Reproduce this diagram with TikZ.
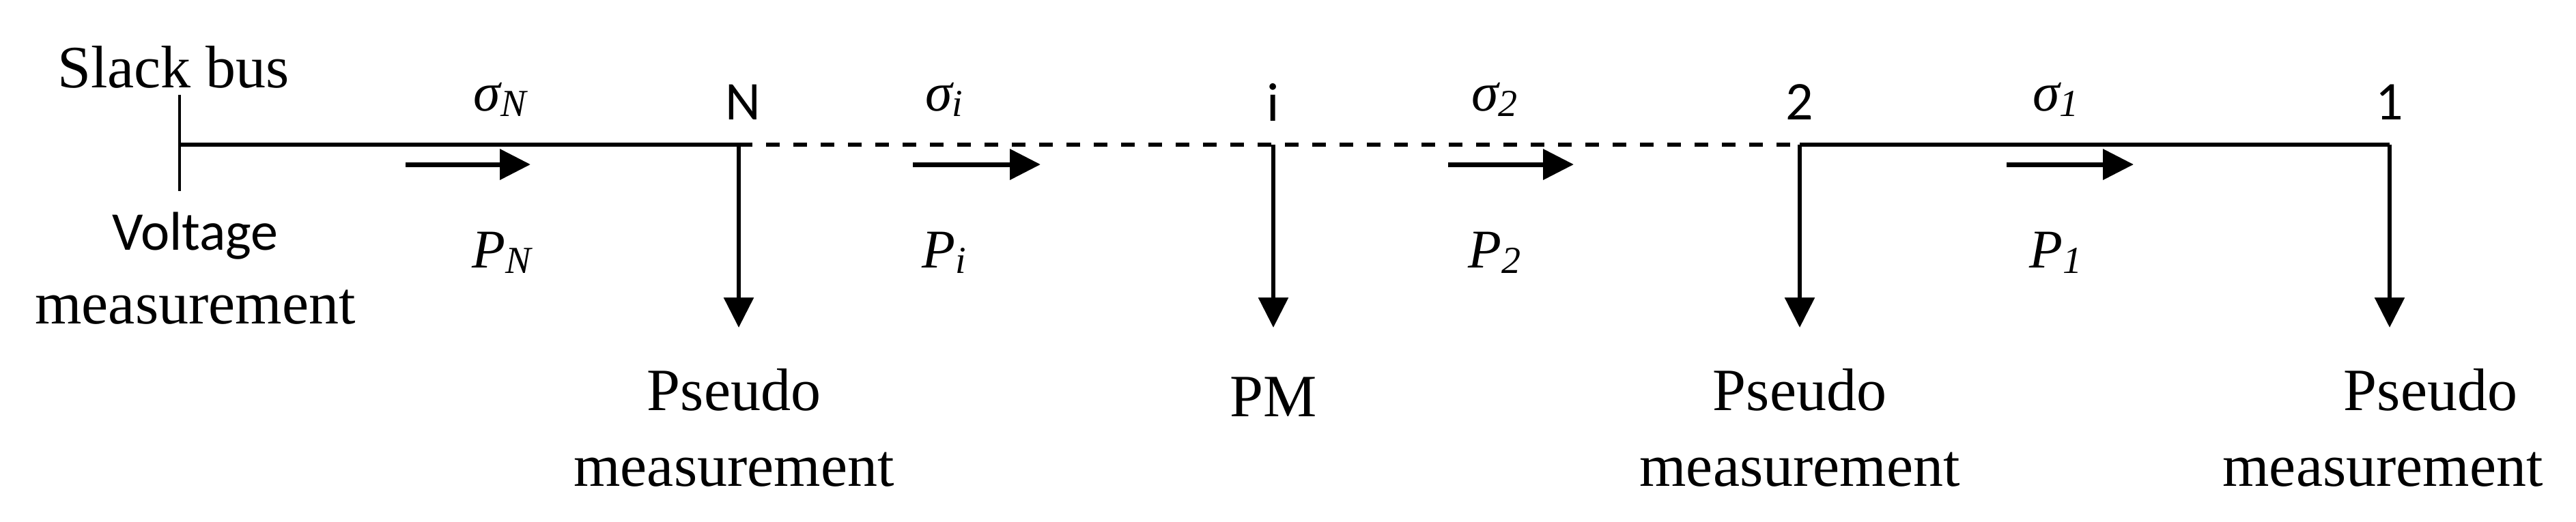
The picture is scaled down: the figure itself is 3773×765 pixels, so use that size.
\documentclass[tikz,border=0pt]{standalone}
\usepackage{fontspec}
\setmainfont{Liberation Serif}
\newfontfamily\carl{Carlito}
\usetikzlibrary{arrows.meta}
\newcommand{\lab}[2]{{\itshape #1}\raisebox{-8pt}{\fontsize{56}{60}\selectfont\itshape #2}}
\begin{document}
\begin{tikzpicture}[x=1pt,y=-1pt,
  lbl/.style={font=\fontsize{88}{100}\selectfont, align=center, inner sep=0},
  sl/.style={font=\carl\fontsize{80}{92}\selectfont, align=center, inner sep=0},
  ml/.style={font=\fontsize{80}{90}\selectfont, inner sep=0},
  flow/.style={line width=7pt, -{Triangle[length=45pt,width=44pt]}},
  down/.style={line width=6pt, -{Triangle[length=44pt,width=43pt]}}]
\useasboundingbox (0,0) rectangle (3773,765);
\coordinate (S) at (263,212);
\coordinate (St) at (263,139);
\coordinate (Sb) at (263,280);
\coordinate (N) at (1082,212);
\coordinate (I) at (1865,212);
\coordinate (B2) at (2636,212);
\coordinate (B1) at (3500,212);
\draw[line width=4.5pt] (St) -- (Sb);
\draw[line width=6pt] (S) -- (N);
\draw[line width=6pt, dash pattern=on 20pt off 20pt] (N) -- (B2);
\draw[line width=6pt] (B2) -- (B1);
\foreach \n/\x in {N/1082,I/1865,B2/2636,B1/3500}{
  \coordinate (\n d) at (\x,480);
  \draw[down] (\n) -- (\n d);
}
\foreach \n/\a/\b in {fa/594/777,fb/1337/1524,fc/2121/2305,fd/2939/3125}{
  \coordinate (\n s) at (\a,241); \coordinate (\n e) at (\b,241);
  \draw[flow] (\n s) -- (\n e);
}
\node[lbl] (slack) at (254,98) {Slack bus};
\node[sl] (volt) at (286,346) {Voltage};
\node[lbl] (vm) at (286,450) {measurement};
\node[sl] (lN) at (1088,150) {N};
\node[sl] (li) at (1865,150) {i};
\node[sl] (l2) at (2636,150) {2};
\node[sl] (l1) at (3500,150) {1};
\node[ml] (sN) at (732,146) {\lab{σ}{N}};
\node[ml] (si) at (1383,146) {\lab{σ}{i}};
\node[ml] (s2) at (2189,146) {\lab{σ}{2}};
\node[ml] (s1) at (3011,146) {\lab{σ}{1}};
\node[ml] (PN) at (735,370) {\lab{P}{N}};
\node[ml] (Pi) at (1383,370) {\lab{P}{i}};
\node[ml] (P2) at (2189,370) {\lab{P}{2}};
\node[ml] (P1) at (3011,370) {\lab{P}{1}};
\node[lbl] (pN) at (1075,571) {Pseudo};
\node[lbl] (mN) at (1075,688) {measurement};
\node[lbl] (pm) at (1865,582) {PM};
\node[lbl] (p2) at (2636,571) {Pseudo};
\node[lbl] (m2) at (2636,688) {measurement};
\node[lbl] (p1) at (3560,571) {Pseudo};
\node[lbl] (m1) at (3490,688) {measurement};
\end{tikzpicture}
\end{document}
